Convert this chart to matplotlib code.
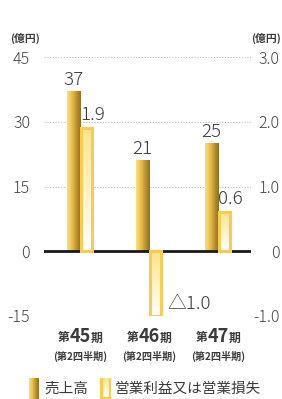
import numpy as np
import matplotlib
matplotlib.use("Agg")
import matplotlib.pyplot as plt
from matplotlib.colors import LinearSegmentedColormap
from matplotlib.patches import Rectangle

plt.rcParams["font.family"] = ["Noto Sans CJK JP", "DejaVu Sans"]

periods = ["45", "46", "47"]
sales = [37, 21, 25]
profit = [1.9, -1.0, 0.6]
profit_labels = ["1.9", "△1.0", "0.6"]
left_ticks = [-15, 0, 15, 30, 45]
right_ticks = [-1.0, 0, 1.0, 2.0, 3.0]
right_tick_labels = ["-1.0", "0", "1.0", "2.0", "3.0"]

TEXT = "#3a3a3a"
gold = LinearSegmentedColormap.from_list(
    "gold", ["#fadf80", "#f0c95a", "#d9ad3c", "#b08a2c", "#8f6f22"])
pale = LinearSegmentedColormap.from_list("pale", ["#ffffff", "#fef3c4", "#fde38a"])
EDGE = "#f8cb55"

W, H = 282, 399
fig = plt.figure(figsize=(W / 100, H / 100), dpi=100)
ax = fig.add_axes([44 / W, 1 - 316 / H, (251 - 44) / W, (316 - 57) / H])
ax2 = ax.twinx()

bw = 0.19
x = np.arange(len(periods))

for xi, v in zip(x, sales):
    ax.imshow(np.linspace(0, 1, 64).reshape(1, -1), cmap=gold, aspect="auto",
              extent=(xi - bw, xi, 0, v), zorder=3)
    ax.annotate(str(v), (xi - bw / 2, v), xytext=(0, 2), textcoords="offset points",
                ha="center", va="bottom", fontsize=13.5, fontweight="light", color=TEXT)

for xi, v, lab in zip(x, profit, profit_labels):
    lo, hi = min(0, v), max(0, v)
    ax2.imshow(np.linspace(0, 1, 64).reshape(-1, 1), cmap=pale, aspect="auto",
               origin="lower", extent=(xi, xi + bw, lo, hi), zorder=3)
    ax2.add_patch(Rectangle((xi + 0.015, lo), bw - 0.03, hi - lo, fill=False,
                            edgecolor=EDGE, linewidth=2.2, zorder=4))
    if v >= 0:
        ax2.annotate(lab, (xi, v), xytext=(0, 3), textcoords="offset points",
                     ha="left", va="bottom", fontsize=13.5, fontweight="light",
                     color=TEXT)
    else:
        ax2.annotate(lab, (xi + bw, v), xytext=(4, 2), textcoords="offset points",
                     ha="left", va="bottom", fontsize=13.5, fontweight="light",
                     color=TEXT)

ax.set_xlim(-0.522, 2.478)
ax.set_ylim(-15, 45)
ax2.set_ylim(-1, 3)

for t in left_ticks:
    if t != 0:
        ax.axhline(t, color="#bbbbbb", linestyle=(0, (1, 1.5)), linewidth=0.8, zorder=1)
ax.axhline(0, color="#1a1a1a", linewidth=2, zorder=5)

ax.set_yticks(left_ticks)
ax.set_yticklabels([str(t) for t in left_ticks])
ax2.set_yticks(right_ticks)
ax2.set_yticklabels(right_tick_labels)
ax.tick_params(axis="y", length=0, pad=10, labelsize=11.5, labelcolor="#444444")
ax2.tick_params(axis="y", length=0, pad=2, labelsize=11.5, labelcolor="#444444")
for lbl in ax.get_yticklabels() + ax2.get_yticklabels():
    lbl.set_fontweight("light")
for lbl in ax2.get_yticklabels():
    lbl.set_horizontalalignment("right")
    lbl.set_x(1.0 + 26 / (251 - 44))
ax.set_xticks([])
for a in (ax, ax2):
    for s in a.spines.values():
        s.set_visible(False)

# period labels
for xi, p in zip(x, periods):
    ax.annotate(p, (xi, 0), xycoords=("data", "axes fraction"), xytext=(0, -21),
                textcoords="offset pixels", ha="center", va="center",
                fontsize=13, fontweight="bold", color=TEXT)
    ax.annotate("第", (xi, 0), xycoords=("data", "axes fraction"), xytext=(-10, -22),
                textcoords="offset pixels", ha="right", va="center",
                fontsize=8.5, fontweight="bold", color=TEXT)
    ax.annotate("期", (xi, 0), xycoords=("data", "axes fraction"), xytext=(11, -22),
                textcoords="offset pixels", ha="left", va="center",
                fontsize=8.5, fontweight="bold", color=TEXT)
    ax.annotate("(第2四半期)", (xi, 0), xycoords=("data", "axes fraction"),
                xytext=(0, -40), textcoords="offset pixels", ha="center", va="center",
                fontsize=7.3, fontweight="bold", color=TEXT)

fig.text(25 / W, 1 - 38 / H, "(億円)", ha="center", va="center", fontsize=7.8,
         fontweight="bold", color=TEXT)
fig.text(266 / W, 1 - 38 / H, "(億円)", ha="center", va="center", fontsize=7.8,
         fontweight="bold", color=TEXT)

# legend
icon1 = fig.add_axes([29 / W, 1 - 399 / H, 10 / W, 21 / H])
icon1.imshow(np.linspace(0, 1, 64).reshape(1, -1), cmap=gold, aspect="auto")
icon1.axis("off")
icon2 = fig.add_axes([100 / W, 1 - 399 / H, 11 / W, 21 / H])
icon2.imshow(np.linspace(0, 1, 64).reshape(-1, 1), cmap=pale, aspect="auto",
             origin="lower", extent=(0, 1, 0, 1))
icon2.add_patch(Rectangle((0.1, 0.03), 0.8, 1.2, fill=False, edgecolor=EDGE,
                          linewidth=2.2))
icon2.set_xlim(0, 1)
icon2.set_ylim(0, 1)
icon2.axis("off")
fig.text(44 / W, 1 - 389 / H, "売上高", ha="left", va="center", fontsize=10.5,
         color=TEXT)
fig.text(115 / W, 1 - 389 / H, "営業利益又は営業損失", ha="left", va="center",
         fontsize=10.5, color=TEXT)

fig.savefig("out.png", dpi=100)
